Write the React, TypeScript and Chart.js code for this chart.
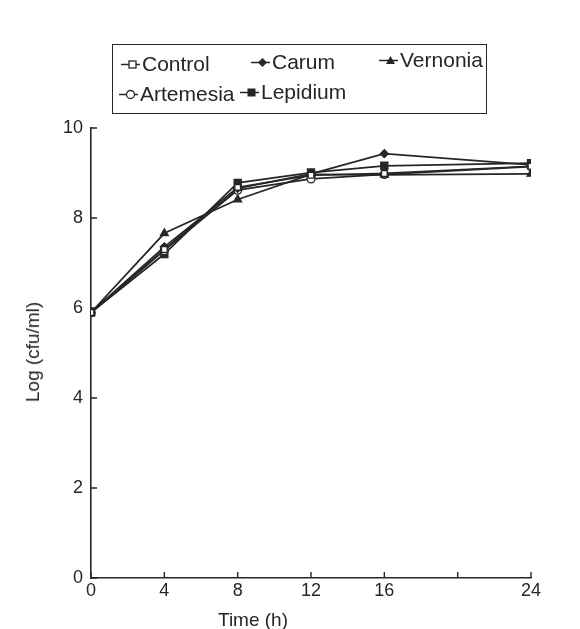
import React, { useEffect, useRef } from "react";
import { Chart, registerables } from "chart.js";
Chart.register(...registerables);

const timeHours = [0, 4, 8, 12, 16, 24];
const controlValues = [5.9, 7.3, 8.68, 8.95, 8.99, 9.15];
const carumValues = [5.9, 7.36, 8.66, 8.98, 9.43, 9.18];
const vernoniaValues = [5.9, 7.66, 8.41, 8.97, 8.96, 8.98];
const artemesiaValues = [5.9, 7.28, 8.62, 8.87, 8.97, 9.14];
const lepidiumValues = [5.9, 7.2, 8.78, 9.01, 9.16, 9.22];

const seriesNames = ["Control", "Carum", "Vernonia", "Artemesia", "Lepidium"];
const xTickValues = [0, 4, 8, 12, 16, 20, 24];
const xTickLabels = ["0", "4", "8", "12", "16", "", "24"];
const yTickValues = [0, 2, 4, 6, 8, 10];

const INK = "#262626";
const FONT = "'Liberation Sans', Arial, Helvetica, sans-serif";

const inwardTicks = {
  id: "inwardTicks",
  afterDraw(chart: any) {
    const { ctx, scales } = chart;
    const xs = scales.x;
    const ys = scales.y;
    ctx.save();
    ctx.strokeStyle = INK;
    ctx.lineWidth = 1.4;
    ctx.beginPath();
    yTickValues.forEach((v) => {
      const py = ys.getPixelForValue(v);
      ctx.moveTo(xs.left, py);
      ctx.lineTo(xs.left + 6, py);
    });
    xTickValues.forEach((v) => {
      const px = xs.getPixelForValue(v);
      ctx.moveTo(px, ys.bottom);
      ctx.lineTo(px, ys.bottom - 6);
    });
    ctx.stroke();
    ctx.restore();
  },
};

function LegendIcon({ style }: { style: string }) {
  let marker: any = null;
  if (style === "Control") marker = <rect x={10} y={5} width={7} height={7} fill="#fff" stroke={INK} strokeWidth={1.3} />;
  if (style === "Carum") marker = <polygon points="13.5,4 18,8.5 13.5,13 9,8.5" fill={INK} />;
  if (style === "Vernonia") marker = <polygon points="13.5,4 18,12 9,12" fill={INK} />;
  if (style === "Artemesia") marker = <circle cx={13.5} cy={8.5} r={4} fill="#fff" stroke={INK} strokeWidth={1.3} />;
  if (style === "Lepidium") marker = <rect x={9.5} y={4.5} width={8} height={8} fill={INK} />;
  return (
    <svg width={22} height={17} style={{ display: "block" }}>
      <line x1={2} y1={8.5} x2={21} y2={8.5} stroke={INK} strokeWidth={1.5} />
      {marker}
    </svg>
  );
}

export default function App() {
  const canvasRef = useRef<HTMLCanvasElement | null>(null);

  useEffect(() => {
    document.body.style.margin = "0";
    const canvas = canvasRef.current;
    if (!canvas) return;
    const mk = (label: string, values: number[], pointStyle: string, fill: string, radius: number) => ({
      label,
      data: timeHours.map((t, i) => ({ x: t, y: values[i] })),
      borderColor: INK,
      backgroundColor: fill,
      pointBackgroundColor: fill,
      pointBorderColor: INK,
      pointBorderWidth: 1.3,
      pointStyle,
      pointRadius: radius,
      borderWidth: 1.7,
      tension: 0,
    });
    const chart = new Chart(canvas, {
      type: "line",
      data: {
        datasets: [
          mk(seriesNames[0], controlValues, "rect", "#fff", 4),
          mk(seriesNames[1], carumValues, "rectRot", INK, 4),
          mk(seriesNames[2], vernoniaValues, "triangle", INK, 4.5),
          mk(seriesNames[3], artemesiaValues, "circle", "#fff", 4),
          mk(seriesNames[4], lepidiumValues, "rect", INK, 5),
        ],
      },
      options: {
        animation: false,
        responsive: false,
        layout: { padding: { top: 128, right: 49, left: 0, bottom: 0 } },
        plugins: { legend: { display: false }, tooltip: { enabled: false } },
        scales: {
          x: {
            type: "linear",
            min: 0,
            max: 24,
            afterBuildTicks: (s: any) => {
              s.ticks = xTickValues.map((v) => ({ value: v }));
            },
            afterFit: (s: any) => {
              s.height = 51;
            },
            grid: { display: false, drawTicks: false },
            border: { display: true, color: INK, width: 1.6 },
            ticks: {
              autoSkip: false,
              maxRotation: 0,
              padding: 2,
              color: INK,
              font: { family: FONT, size: 18 },
              callback: (v: any) => xTickLabels[xTickValues.indexOf(Number(v))] ?? "",
            },
          },
          y: {
            type: "linear",
            min: 0,
            max: 10,
            afterBuildTicks: (s: any) => {
              s.ticks = yTickValues.map((v) => ({ value: v }));
            },
            afterFit: (s: any) => {
              s.width = 91;
            },
            grid: { display: false, drawTicks: false },
            border: { display: true, color: INK, width: 1.6 },
            ticks: {
              padding: 8,
              color: INK,
              font: { family: FONT, size: 18 },
            },
          },
        },
      },
      plugins: [inwardTicks],
    } as any);
    return () => chart.destroy();
  }, []);

  const legendItem = (name: string, left: number, top: number) => (
    <div key={name} style={{ position: "absolute", left, top, display: "flex", alignItems: "center", height: 24 }}>
      <LegendIcon style={name} />
      <span style={{ marginLeft: 1, fontSize: 21, lineHeight: "24px" }}>{name}</span>
    </div>
  );

  return (
    <div style={{ position: "relative", width: 580, height: 629, background: "#fff", fontFamily: FONT, color: INK, overflow: "hidden" }}>
      <canvas ref={canvasRef} width={580} height={629} style={{ display: "block", width: 580, height: 629 }} />
      <div
        style={{
          position: "absolute",
          left: 112,
          top: 44,
          width: 375,
          height: 70,
          border: `1.5px solid ${INK}`,
          boxSizing: "border-box",
        }}
      >
        {legendItem(seriesNames[0], 6, 7)}
        {legendItem(seriesNames[1], 136, 5)}
        {legendItem(seriesNames[2], 264, 3)}
        {legendItem(seriesNames[3], 4, 37)}
        {legendItem(seriesNames[4], 125, 35)}
      </div>
      <div
        style={{
          position: "absolute",
          left: 33,
          top: 352,
          transform: "translate(-50%, -50%) rotate(-90deg)",
          fontSize: 19,
          whiteSpace: "nowrap",
        }}
      >
        Log (cfu/ml)
      </div>
      <div
        style={{
          position: "absolute",
          left: 253,
          top: 620,
          transform: "translate(-50%, -50%)",
          fontSize: 19,
          whiteSpace: "nowrap",
        }}
      >
        Time (h)
      </div>
    </div>
  );
}
